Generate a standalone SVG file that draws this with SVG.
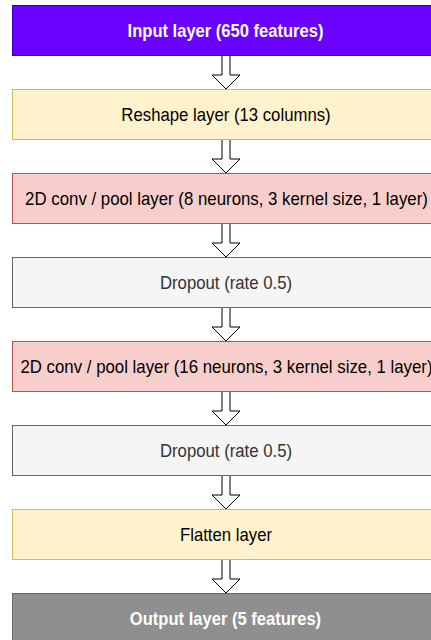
<svg xmlns="http://www.w3.org/2000/svg" width="431" height="640" viewBox="0 0 431 640">
<style>
text{font-family:"Liberation Sans",Arial,sans-serif;font-size:18px;text-anchor:middle}
.b{font-weight:bold;fill:#fff}
.d{fill:#333}
.k{fill:#000}
.arr{fill:#fff;stroke:#000;stroke-width:1}
</style>
<rect width="431" height="640" fill="#fff"/>
<g id="connectors">
<path class="arr" d="M222,55.5V75H212L226,89L240,75H230V55.5"/>
<path class="arr" d="M222,139.5V159H212L226,173L240,159H230V139.5"/>
<path class="arr" d="M222,223.5V243H212L226,257L240,243H230V223.5"/>
<path class="arr" d="M222,307.5V327H212L226,341L240,327H230V307.5"/>
<path class="arr" d="M222,391.5V411H212L226,425L240,411H230V391.5"/>
<path class="arr" d="M222,475.5V495H212L226,509L240,495H230V475.5"/>
<path class="arr" d="M222,559.5V579H212L226,593L240,579H230V559.5"/>
</g>
<g id="input"><rect x="12.5" y="5.5" width="428" height="50" fill="#6a00ff" stroke="#3700cc"/><text class="b" transform="translate(225.5,37) scale(0.92,1)">Input layer (650 features)</text></g>
<g id="reshape"><rect x="12.5" y="89.5" width="428" height="50" fill="#fff2cc" stroke="#d6b656"/><text class="k" transform="translate(226,121) scale(0.93,1)">Reshape layer (13 columns)</text></g>
<g id="conv1"><rect x="12.5" y="173.5" width="428" height="50" fill="#f8cecc" stroke="#b85450"/><text class="k" transform="translate(226.5,205) scale(0.935,1)">2D conv / pool layer (8 neurons, 3 kernel size, 1 layer)</text></g>
<g id="dropout1"><rect x="12.5" y="257.5" width="428" height="50" fill="#f5f5f5" stroke="#666"/><text class="d" transform="translate(226,289) scale(0.93,1)">Dropout (rate 0.5)</text></g>
<g id="conv2"><rect x="12.5" y="341.5" width="428" height="50" fill="#f8cecc" stroke="#b85450"/><text class="k" transform="translate(226.5,373) scale(0.935,1)">2D conv / pool layer (16 neurons, 3 kernel size, 1 layer)</text></g>
<g id="dropout2"><rect x="12.5" y="425.5" width="428" height="50" fill="#f5f5f5" stroke="#666"/><text class="d" transform="translate(226,457) scale(0.93,1)">Dropout (rate 0.5)</text></g>
<g id="flatten"><rect x="12.5" y="509.5" width="428" height="50" fill="#fff2cc" stroke="#d6b656"/><text class="k" transform="translate(226,541) scale(0.93,1)">Flatten layer</text></g>
<g id="output"><rect x="12.5" y="593.5" width="428" height="50" fill="#8f8f8f" stroke="#666"/><text class="b" transform="translate(225.5,625) scale(0.92,1)">Output layer (5 features)</text></g>
</svg>
